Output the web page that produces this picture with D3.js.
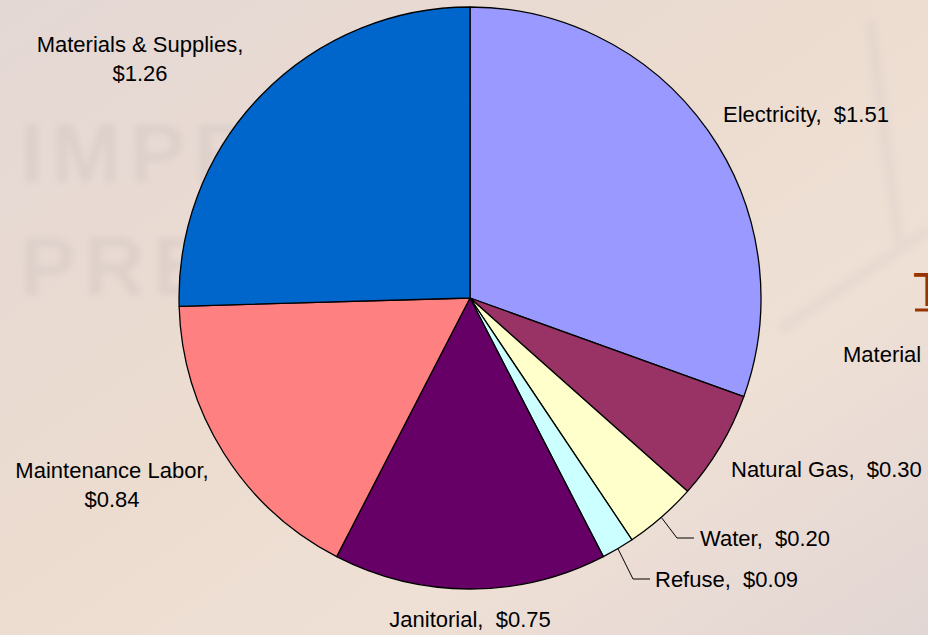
<!DOCTYPE html>
<html>
<head>
<meta charset="utf-8">
<script src="https://cdn.jsdelivr.net/npm/d3@7"></script>
<style>
  html, body { margin: 0; padding: 0; overflow: hidden; }
  body { width: 928px; height: 635px; }
  text { font-family: "Liberation Sans", Arial, sans-serif; }
</style>
</head>
<body>
<svg id="chart" width="928" height="635"></svg>
<script>
// ---- data ----
const categories = ["Electricity", "Natural Gas", "Water", "Refuse", "Janitorial", "Maintenance Labor", "Materials & Supplies"];
const values = [1.51, 0.30, 0.20, 0.09, 0.75, 0.84, 1.26];
const colors = ["#9999FF", "#993366", "#FFFFCC", "#CCFFFF", "#660066", "#FF8080", "#0066CC"];
const watermarkWords = ["IMPR", "PRE"];

const W = 928, H = 635;
const cx = 470, cy = 298, R = 291;

const svg = d3.select("#chart");
const defs = svg.append("defs");

// background
const grad = defs.append("linearGradient").attr("id", "bg")
  .attr("x1", "0").attr("y1", "0").attr("x2", "1").attr("y2", "1");
grad.append("stop").attr("offset", "0").attr("stop-color", "#e4d8d5");
grad.append("stop").attr("offset", "0.45").attr("stop-color", "#ecdcd0");
grad.append("stop").attr("offset", "0.7").attr("stop-color", "#efe0d5");
grad.append("stop").attr("offset", "1").attr("stop-color", "#e2d6d4");
svg.append("rect").attr("width", W).attr("height", H).attr("fill", "url(#bg)");

const blur = defs.append("filter").attr("id", "blur");
blur.append("feGaussianBlur").attr("stdDeviation", 3);

const wm = svg.append("g").attr("filter", "url(#blur)").attr("opacity", 0.09)
  .attr("fill", "#7a7580");
wm.selectAll("text").data(watermarkWords).join("text")
  .attr("x", 20)
  .attr("y", (d, i) => [182, 295][i])
  .attr("font-size", 84)
  .attr("font-weight", "bold")
  .attr("letter-spacing", 8)
  .text(d => d);

// faint streaks on right
svg.append("g").attr("filter", "url(#blur)").attr("opacity", 0.12)
  .selectAll("path").data([0, 1]).join("path")
  .attr("d", (d, i) => i === 0 ? "M780,330 L928,230" : "M870,20 L900,250")
  .attr("stroke", "#b8b0b8").attr("stroke-width", 12).attr("fill", "none");

// partial slide content on the right
svg.append("text").attr("x", 913).attr("y", 306)
  .attr("font-family", "Liberation Serif, serif")
  .attr("font-size", 48).attr("fill", "#993300").text("T");
svg.append("line").attr("x1", 915).attr("x2", 928).attr("y1", 310).attr("y2", 310)
  .attr("stroke", "#993300").attr("stroke-width", 3);
svg.append("text").attr("x", 843).attr("y", 362)
  .attr("font-size", 22).attr("fill", "#000").text("Material");

// ---- pie ----
const pie = d3.pie().sort(null).value(d => d.value);
const data = categories.map((c, i) => ({ name: c, value: values[i], color: colors[i] }));
const arcs = pie(data);
const arcGen = d3.arc().innerRadius(0).outerRadius(R);

const g = svg.append("g").attr("transform", `translate(${cx},${cy})`);
g.selectAll("path").data(arcs).join("path")
  .attr("d", arcGen)
  .attr("fill", d => d.data.color)
  .attr("stroke", "#000")
  .attr("stroke-width", 1.3)
  .attr("stroke-linejoin", "round");

// ---- labels ----
const fmt = v => "$" + d3.format(".2f")(v);
const fs = 22;
const labelPos = {
  "Electricity": { x: 723, y: 122, anchor: "start", lines: 1 },
  "Natural Gas": { x: 731, y: 477, anchor: "start", lines: 1 },
  "Water": { x: 700, y: 546, anchor: "start", lines: 1 },
  "Refuse": { x: 655, y: 587, anchor: "start", lines: 1 },
  "Janitorial": { x: 470, y: 627, anchor: "middle", lines: 1 },
  "Maintenance Labor": { x: 112, y: 478, anchor: "middle", lines: 2 },
  "Materials & Supplies": { x: 140, y: 52, anchor: "middle", lines: 2 }
};

const lbl = svg.append("g").attr("font-size", fs).attr("fill", "#000");
arcs.forEach(a => {
  const p = labelPos[a.data.name];
  const t = lbl.append("text").attr("x", p.x).attr("y", p.y).attr("text-anchor", p.anchor)
    .attr("xml:space", "preserve");
  if (p.lines === 1) {
    t.text(a.data.name + ",  " + fmt(a.data.value));
  } else {
    t.append("tspan").attr("x", p.x).text(a.data.name + ",");
    t.append("tspan").attr("x", p.x).attr("dy", 29).text(fmt(a.data.value));
  }
});

// leader lines for small slices
const leaders = [
  { name: "Water", elbow: [677, 538], end: [694, 538] },
  { name: "Refuse", elbow: [633, 579], end: [650, 579] }
];
leaders.forEach(l => {
  const a = arcs.find(d => d.data.name === l.name);
  const mid = (a.startAngle + a.endAngle) / 2;
  const sx = cx + R * Math.sin(mid), sy = cy - R * Math.cos(mid);
  svg.append("path")
    .attr("d", d3.line()([[sx, sy], l.elbow, l.end]))
    .attr("fill", "none").attr("stroke", "#000").attr("stroke-width", 1);
});
</script>
</body>
</html>
